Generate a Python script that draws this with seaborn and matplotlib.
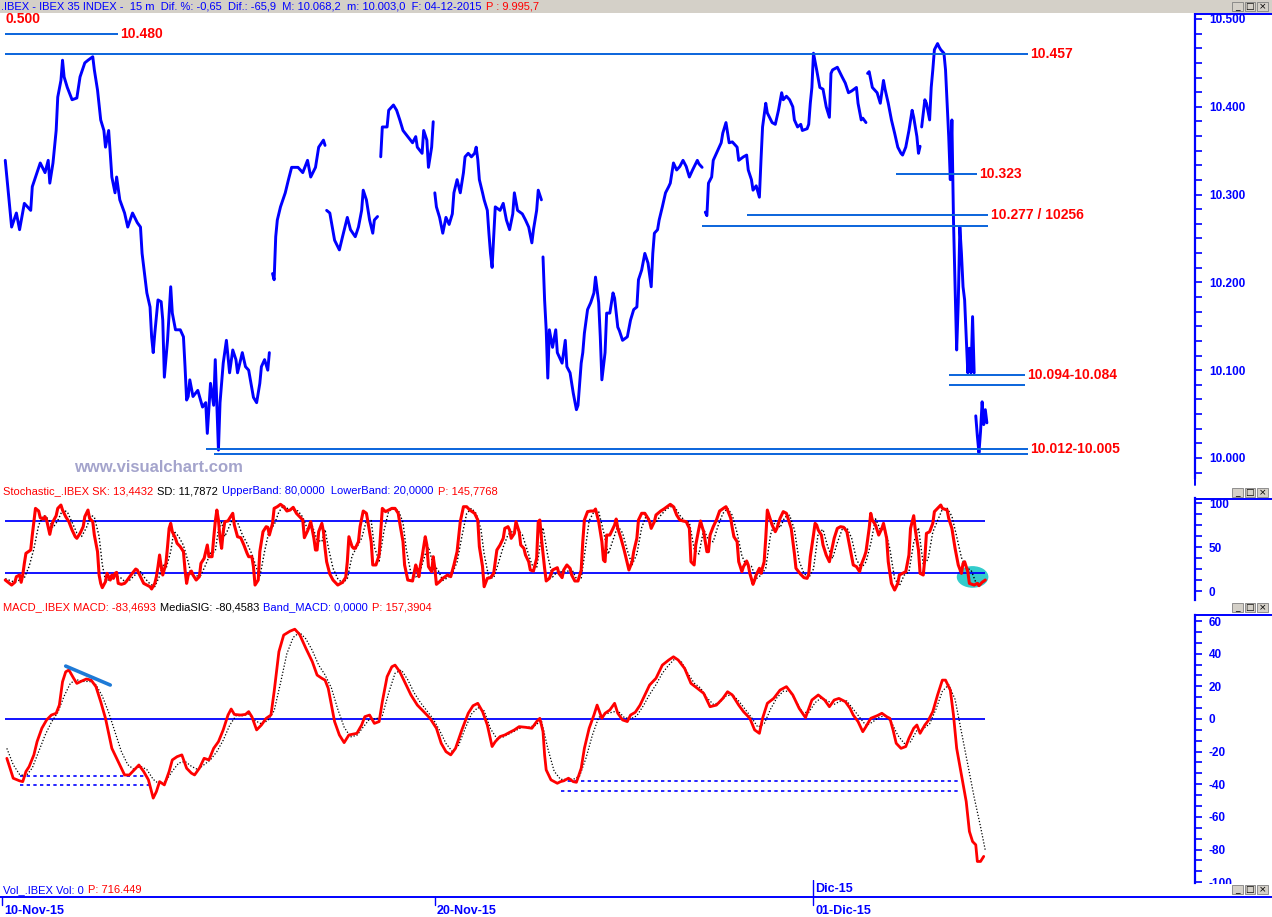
import numpy as np
import pandas as pd
import matplotlib
matplotlib.use("Agg")
import matplotlib.pyplot as plt
from matplotlib import font_manager
from matplotlib.ticker import MultipleLocator, FuncFormatter
from matplotlib.patches import Ellipse, Rectangle
from matplotlib.lines import Line2D
import seaborn as sns

# ---------------- data (x = 15 min bar number since 10-Nov-15 open) ----------------
price_bar = [2, 6, 9, 11, 14, 18, 19, 24, 27, 29, 30, 32, 34, 35, 37, 38, 39, 41, 44, 47,
             49, 52, 54, 57, 58, 60, 62, 64, 65, 67, 68, 69, 71, 72, 74, 77, 79, 82, 85, 87,
             88, 90, 91, 93, 94, 95, 96, 98, 100, 101, 102, 104, 106, 107, 109, 112, 114, 115, 116, 117,
             118, 120, 123, 126, 128, 129, 131, 133, 134, 136, 137, 139, 141, 143, 145, 147, 148, 151, 153, 155,
             158, 160, 162, 163, 165, 167, 168,
             170, 171, 172, 173, 175, 178, 180, 182, 186, 189, 192, 194, 197, 199, 202, 203,
             204, 206, 209, 212, 214, 217, 219, 222, 224, 226, 227, 229, 231, 233, 234, 236,
             238, 239, 242, 243, 246, 248, 250, 252, 255, 258, 260, 261, 264, 265, 267, 268, 270, 271,
             272, 273, 275, 277, 279, 281, 283, 284, 286, 288, 290, 291, 293, 295, 297, 298, 299, 300, 302, 303,
             305, 306, 307, 308, 309, 310, 313, 315, 317, 319, 321, 322, 324, 327, 329, 331, 333, 334, 336, 337, 339,
             340, 341, 342, 343, 344, 346, 348, 349, 352, 354, 355, 357, 359, 361, 362, 364, 365, 366, 368, 370,
             372, 373, 375, 376, 377, 379, 380, 382, 384, 385, 387, 388, 390, 393, 395, 397, 399, 400, 402, 404,
             406, 408, 409, 410, 412, 413, 415, 417, 419, 420, 422, 424, 426, 428, 430, 432, 434, 437, 438, 440,
             442, 443, 444, 446, 447, 449, 452, 453, 455, 457, 459, 462, 463, 466, 468, 469, 471, 472, 474, 476,
             477, 478, 480, 481, 484, 486, 488, 490, 491, 493, 495, 497, 498, 500, 502, 503, 506, 507, 508, 509,
             510, 512, 514, 516, 518, 520, 521, 522, 525, 528, 530, 532, 534, 537, 538, 540, 541, 543,
             544, 545, 547, 550, 552, 554, 555, 557, 559, 561, 563, 565, 566, 568, 570, 572, 573, 575, 576, 577,
             578, 580, 581, 583, 584, 585, 586, 588, 589, 590, 592, 593, 594, 595, 596, 597, 598, 599, 600, 601,
             602, 603, 604, 605, 606, 607, 608, 609, 610, 611,
             612, 613, 614, 615, 616, 617, 618, 619]
price_val = [10339, 10263, 10279, 10260, 10290, 10282, 10309, 10336, 10325, 10339, 10313, 10336, 10373, 10411, 10430, 10453, 10434, 10422, 10408, 10410,
             10434, 10450, 10453, 10457, 10442, 10419, 10385, 10373, 10354, 10373, 10347, 10320, 10302, 10320, 10294, 10279, 10263, 10279, 10268, 10263,
             10233, 10203, 10188, 10172, 10138, 10120, 10142, 10180, 10178, 10157, 10092, 10134, 10195, 10165, 10146, 10146, 10138, 10104, 10066, 10070,
             10089, 10070, 10077, 10058, 10063, 10028, 10085, 10060, 10112, 10009, 10063, 10108, 10134, 10097, 10123, 10112, 10097, 10120, 10104, 10100,
             10069, 10063, 10085, 10104, 10112, 10100, 10120,
             10210, 10203, 10252, 10271, 10286, 10302, 10317, 10331, 10331, 10325, 10339, 10320, 10331, 10354, 10362, 10356,
             10282, 10279, 10248, 10237, 10252, 10274, 10260, 10252, 10263, 10282, 10305, 10294, 10271, 10256, 10271, 10275,
             10343, 10377, 10377, 10396, 10402, 10396, 10385, 10373, 10366, 10359, 10366, 10354, 10347, 10373, 10362, 10331, 10354, 10383,
             10302, 10286, 10274, 10256, 10274, 10266, 10278, 10302, 10317, 10302, 10325, 10343, 10347, 10343, 10347, 10354, 10340, 10317, 10302, 10294,
             10282, 10256, 10233, 10217, 10252, 10286, 10282, 10290, 10271, 10260, 10278, 10302, 10282, 10278, 10271, 10263, 10245, 10260, 10282, 10305, 10294,
             10229, 10180, 10146, 10091, 10146, 10126, 10146, 10120, 10108, 10134, 10104, 10097, 10074, 10055, 10060, 10108, 10120, 10142, 10169, 10177,
             10188, 10206, 10177, 10138, 10089, 10120, 10165, 10165, 10188, 10182, 10149, 10145, 10134, 10138, 10157, 10169, 10172, 10203, 10214, 10233,
             10222, 10195, 10233, 10256, 10260, 10271, 10286, 10302, 10309, 10313, 10336, 10328, 10332, 10339, 10332, 10320, 10328, 10339, 10335, 10331,
             10280, 10276, 10313, 10320, 10339, 10347, 10359, 10370, 10382, 10359, 10360, 10354, 10339, 10343, 10345, 10328, 10317, 10305, 10310, 10297,
             10339, 10377, 10404, 10393, 10382, 10380, 10396, 10416, 10408, 10412, 10408, 10400, 10385, 10377, 10380, 10373, 10375, 10380, 10404, 10422,
             10461, 10442, 10422, 10420, 10400, 10388, 10438, 10442, 10445, 10434, 10427, 10416, 10418, 10422, 10404, 10385, 10387, 10382,
             10438, 10440, 10422, 10416, 10404, 10430, 10420, 10404, 10385, 10370, 10354, 10347, 10345, 10354, 10373, 10396, 10388, 10366, 10347, 10355,
             10377, 10408, 10404, 10385, 10422, 10442, 10465, 10472, 10468, 10465, 10461, 10442, 10404, 10366, 10317, 10385, 10271, 10195, 10123, 10177,
             10263, 10233, 10195, 10180, 10138, 10097, 10125, 10097, 10161, 10097,
             10048, 10025, 10006, 10030, 10064, 10038, 10055, 10040]
session_starts = [170, 204, 238, 272, 340, 442, 544, 578, 612]

# support / resistance levels drawn on the price panel
level_price = [10483, 10460, 10323, 10277, 10264, 10095, 10083, 10010, 10004]
level_start = [2, 2, 562, 468, 440, 595, 595, 128, 133]
level_end = [73, 645, 613, 620, 620, 643, 643, 645, 645]
level_text = {0: "10.480", 1: "10.457", 2: "10.323", 3: "10.277 / 10256",
              5: "10.094-10.084", 7: "10.012-10.005"}

sk_bar = [2, 6, 8, 9, 11, 12, 13, 14, 15, 18, 19, 20, 21, 23, 24, 26, 27, 28, 30, 31,
          32, 34, 35, 37, 38, 40, 42, 44, 46, 47, 49, 51, 52, 54, 55, 57, 58, 60, 61, 62,
          63, 65, 66, 68, 69, 70, 71, 72, 73, 75, 77, 78, 81, 84, 85, 87, 89, 91, 93, 94,
          96, 97, 98, 99, 100, 101, 103, 104, 105, 106, 107, 109, 110, 112, 114, 115, 116, 117, 119, 120,
          122, 124, 125, 127, 128, 129, 130, 132, 133, 134, 135, 136, 137, 138, 139, 140, 142, 143, 145, 146,
          148, 150, 152, 154, 155, 157, 158, 159, 161, 162, 164, 166, 167, 168, 170, 171, 173, 175, 177, 179,
          181, 183, 185, 187, 189, 190, 192, 193, 194, 195, 196, 197, 198, 199, 201, 202, 203, 204, 206, 208,
          211, 214, 216, 217, 218, 220, 221, 222, 224, 225, 227, 229, 230, 232, 233, 235, 237, 238, 239, 241,
          243, 245, 247, 249, 250, 252, 253, 255, 258, 260, 261, 262, 263, 264, 266, 267, 268, 270, 271, 272,
          273, 275, 277, 280, 282, 284, 286, 288, 290, 292, 294, 297, 299, 300, 302, 303, 305, 307, 309, 310,
          311, 313, 315, 316, 318, 319, 320, 322, 323, 325, 326, 328, 329, 331, 332, 334, 336, 337, 338, 339,
          341, 342, 344, 346, 349, 350, 352, 353, 355, 357, 358, 360, 362, 364, 365, 366, 368, 370, 372, 373,
          375, 377, 378, 379, 380, 382, 383, 385, 386, 387, 389, 391, 393, 394, 396, 397, 399, 400, 402, 404,
          406, 407, 408, 410, 411, 414, 416, 418, 420, 422, 424, 426, 428, 430, 432, 433, 435, 436, 438, 439,
          440, 441, 443, 444, 445, 447, 449, 451, 454, 455, 456, 458, 459, 460, 462, 463, 465, 466, 468, 469,
          470, 472, 473, 474, 476, 477, 479, 480, 481, 482, 484, 486, 487, 489, 491, 493, 494, 496, 498, 499,
          502, 504, 506, 507, 508, 510, 511, 512, 513, 515, 516, 518, 520, 521, 523, 525, 527, 529, 531, 533,
          535, 537, 539, 540, 542, 543, 545, 546, 547, 549, 550, 551, 553, 554, 556, 557, 559, 561, 563, 564,
          566, 568, 570, 571, 573, 574, 576, 577, 579, 580, 581, 583, 585, 586, 588, 590, 591, 594, 595, 597,
          599, 600, 601, 603, 604, 605, 607, 608, 611, 613, 614, 616, 618]
sk_val = [12.5, 6.8, 9.9, 16.3, 18.2, 9.9, 18.2, 31.4, 42.8, 46.6, 63.6, 78.8, 93.9, 90.9, 83.3, 81.8, 84.5, 80.7, 64.4, 73.1,
          78.8, 85.6, 93.9, 97.7, 92.0, 84.5, 78.8, 69.3, 61.7, 59.9, 65.5, 73.1, 84.5, 92.0, 82.6, 78.8, 63.6, 44.7, 18.2, 8.7,
          3.8, 10.6, 20.1, 12.5, 18.2, 14.4, 20.1, 21.2, 8.7, 7.6, 8.7, 10.6, 18.2, 25.0, 23.9, 16.3, 8.7, 6.8, 4.9, 2.3,
          8.7, 16.3, 27.7, 40.9, 27.7, 18.2, 31.4, 50.4, 71.2, 76.9, 67.4, 59.9, 54.2, 50.4, 44.7, 23.9, 8.7, 18.2, 22.7, 18.2,
          12.5, 16.3, 31.4, 37.1, 44.7, 52.3, 39.0, 39.0, 59.9, 78.8, 92.0, 80.7, 59.9, 48.5, 67.4, 78.8, 79.6, 82.6, 88.3, 75.0,
          61.7, 60.6, 52.3, 42.8, 39.0, 39.0, 27.7, 6.8, 12.5, 44.7, 67.4, 73.1, 72.4, 63.6, 76.9, 93.9, 95.8, 98.5, 95.8, 90.9,
          92.0, 95.1, 88.3, 84.5, 80.7, 60.6, 68.2, 73.1, 78.8, 69.3, 59.9, 46.6, 46.6, 67.4, 76.9, 67.4, 48.5, 33.3, 19.3, 12.5,
          6.8, 9.9, 15.5, 33.3, 61.7, 50.4, 48.5, 48.5, 56.1, 73.1, 90.9, 88.3, 78.0, 56.1, 29.6, 29.6, 40.9, 67.4, 93.9, 90.2,
          92.0, 93.9, 93.9, 88.3, 76.9, 56.1, 29.6, 12.5, 11.4, 29.6, 23.9, 16.3, 29.6, 39.0, 61.7, 52.3, 27.7, 22.0, 39.0, 25.8,
          7.6, 10.6, 14.4, 18.2, 16.3, 29.6, 44.7, 78.8, 95.8, 95.8, 92.0, 88.3, 80.7, 50.4, 27.7, 4.9, 14.4, 15.2, 20.1, 33.3,
          46.6, 52.3, 59.9, 71.2, 73.1, 69.3, 59.9, 65.5, 78.8, 67.4, 52.3, 48.5, 40.9, 33.3, 23.9, 22.7, 37.1, 78.8, 80.7, 59.9,
          25.8, 11.4, 14.4, 23.9, 26.5, 20.1, 15.2, 23.9, 29.6, 25.8, 18.2, 11.4, 11.4, 23.9, 56.1, 80.7, 90.2, 90.9, 90.9, 93.2,
          78.8, 56.1, 35.2, 33.3, 63.6, 63.6, 67.4, 75.0, 81.8, 71.2, 59.9, 46.6, 31.4, 23.9, 33.3, 44.7, 59.9, 80.7, 88.3, 88.3,
          82.6, 78.8, 71.2, 78.8, 86.4, 90.9, 93.2, 95.8, 98.5, 95.8, 86.4, 80.7, 79.6, 78.8, 71.2, 33.3, 29.6, 52.3, 71.2, 79.6,
          73.1, 67.4, 44.7, 44.7, 63.6, 73.1, 80.7, 90.9, 94.7, 95.8, 92.0, 82.6, 71.2, 61.7, 56.1, 33.3, 22.0, 27.7, 34.1, 29.6,
          20.1, 7.6, 12.5, 18.2, 25.8, 20.1, 33.3, 59.9, 92.0, 86.4, 75.0, 67.4, 71.2, 82.6, 90.2, 88.3, 82.6, 71.2, 42.8, 25.8,
          18.9, 15.2, 14.4, 18.9, 39.0, 63.6, 76.9, 75.0, 69.3, 63.6, 52.3, 40.9, 33.3, 42.8, 59.9, 71.2, 73.1, 72.4, 67.4, 48.5,
          29.6, 27.7, 22.0, 29.6, 39.0, 44.7, 71.2, 88.3, 80.7, 75.0, 69.3, 63.6, 71.2, 76.9, 59.9, 33.3, 8.7, 1.1, 8.7, 18.2,
          20.1, 22.0, 40.9, 71.2, 85.6, 69.3, 46.6, 20.1, 18.2, 37.1, 65.5, 67.4, 76.9, 90.2, 93.9, 97.7, 93.9, 92.0, 82.6, 71.2,
          48.5, 39.0, 29.6, 20.1, 31.4, 33.3, 22.0, 8.7, 6.8, 8.7, 6.1, 9.9, 12.5]
sd_bar = [2, 8, 14, 17, 20, 23, 26, 29, 32, 35, 38, 41, 44, 47, 50, 53, 56, 58, 61, 63,
          65, 68, 71, 74, 77, 80, 84, 87, 90, 93, 96, 99, 101, 103, 106, 108, 111, 114, 117, 119,
          122, 125, 128, 131, 134, 136, 138, 140, 142, 145, 148, 151, 154, 157, 160, 162, 165, 168, 171, 174,
          177, 180, 183, 186, 189, 192, 195, 198, 201, 203, 205, 208, 211, 214, 217, 220, 223, 226, 229, 232,
          234, 237, 240, 243, 246, 249, 252, 254, 257, 260, 263, 266, 268, 271, 274, 277, 280, 283, 286, 289,
          292, 295, 298, 301, 303, 306, 309, 312, 315, 318, 321, 324, 327, 330, 333, 336, 338, 340, 343, 346,
          349, 352, 355, 358, 361, 364, 366, 369, 372, 375, 378, 381, 384, 387, 390, 393, 396, 399, 402, 405,
          408, 411, 414, 417, 420, 423, 426, 429, 432, 435, 438, 441, 444, 447, 450, 453, 456, 459, 462, 465,
          468, 471, 474, 477, 480, 483, 486, 489, 492, 495, 498, 501, 504, 507, 510, 513, 516, 519, 522, 525,
          528, 531, 534, 537, 540, 543, 546, 549, 552, 555, 558, 561, 564, 567, 570, 573, 576, 579, 582, 585,
          588, 591, 594, 597, 600, 603, 606, 609, 612, 615, 618]
sd_val = [14, 10, 15, 28, 48, 75, 86, 82, 72, 80, 92, 90, 78, 66, 62, 72, 86, 84, 62, 30,
          12, 13, 16, 16, 11, 12, 19, 22, 14, 8, 5, 17, 30, 25, 45, 68, 62, 52, 33, 18,
          17, 18, 30, 43, 45, 70, 78, 62, 70, 82, 78, 64, 54, 42, 26, 16, 45, 70, 75, 90,
          97, 93, 92, 91, 84, 70, 74, 58, 56, 70, 50, 26, 14, 9, 14, 40, 50, 60, 80, 80,
          50, 34, 68, 91, 93, 92, 78, 48, 20, 16, 24, 42, 50, 30, 24, 12, 15, 20, 33, 62,
          88, 94, 88, 70, 42, 15, 15, 32, 50, 64, 68, 70, 64, 47, 30, 26, 50, 72, 40, 16,
          22, 22, 22, 25, 14, 14, 40, 80, 90, 90, 68, 42, 58, 74, 66, 46, 30, 42, 72, 86,
          78, 78, 86, 92, 96, 95, 86, 80, 78, 48, 42, 70, 58, 56, 74, 88, 94, 86, 66, 40,
          28, 28, 14, 18, 26, 64, 80, 72, 84, 86, 70, 34, 20, 15, 25, 66, 70, 50, 37, 55,
          70, 72, 60, 36, 26, 33, 54, 82, 70, 70, 48, 14, 6, 18, 22, 55, 72, 30, 36, 67,
          80, 93, 94, 85, 62, 38, 26, 24, 10, 8, 11.8]
stoch_bands = [80, 20]

macd_bar = [3, 5, 7, 11, 13, 15, 17, 20, 22, 25, 28, 31, 34, 36, 38, 40, 42, 45, 47, 50,
            53, 56, 59, 62, 65, 69, 73, 77, 80, 84, 86, 89, 92, 95, 97, 99, 102, 105, 107, 110,
            113, 116, 119, 121, 124, 127, 130, 133, 136, 139, 142, 144, 146, 150, 153, 155, 157, 160, 163, 166,
            169, 171, 174, 177, 181, 184, 187, 191, 195, 198, 201, 203, 205, 207, 209, 212, 215, 218, 223, 226,
            228, 231, 234, 237, 239, 242, 245, 247, 250, 253, 257, 261, 265, 269, 273, 276, 279, 282, 285, 289,
            293, 296, 299, 302, 305, 308, 310, 313, 316, 319, 322, 325, 329, 333, 336, 338, 340, 341, 342, 345,
            349, 351, 353, 356, 359, 361, 364, 366, 369, 372, 374, 377, 379, 382, 385, 387, 390, 393, 395, 398,
            401, 404, 407, 411, 415, 419, 422, 425, 429, 433, 437, 441, 445, 449, 453, 456, 459, 463, 466, 470,
            473, 476, 478, 481, 485, 489, 493, 497, 501, 505, 509, 513, 517, 520, 523, 526, 530, 533, 535, 538,
            541, 543, 546, 550, 553, 556, 558, 560, 562, 565, 568, 570, 573, 575, 577, 580, 582, 585, 588, 591,
            593, 596, 598, 600, 603, 606, 608, 610, 612, 613, 615, 617]
macd_val = [-24.1, -30.2, -36.3, -37.9, -38.4, -32.2, -29.2, -22.0, -13.9, -5.7, -0.6, 2.4, 3.5, 8.5, 22.8, 28.9, 30.0, 24.9, 21.8, 23.2,
            24.5, 23.8, 19.8, 10.6, 0.4, -18.0, -26.1, -34.3, -34.3, -30.2, -28.2, -32.2, -37.3, -48.5, -44.5, -38.4, -40.4, -32.2, -25.1, -23.1,
            -22.0, -30.2, -33.2, -34.3, -30.2, -24.1, -25.1, -18.0, -13.9, -6.7, 2.4, 6.1, 2.8, 2.4, 2.8, 4.5, 1.4, -6.7, -3.7, 0.4,
            2.4, 16.7, 41.2, 51.4, 53.8, 55.0, 51.8, 43.2, 35.1, 26.9, 24.9, 23.8, 18.8, 8.5, -1.6, -9.8, -14.5, -9.8, -8.8, -3.7,
            1.4, 2.4, -2.7, -1.6, 10.6, 25.9, 32.0, 33.0, 28.9, 22.8, 14.7, 8.5, 4.5, 0.4, -5.7, -14.9, -20.0, -22.0, -18.0, -6.7,
            3.5, 8.1, 9.6, 4.5, -3.7, -16.9, -13.9, -10.8, -9.8, -8.2, -6.7, -4.7, -5.1, -5.7, -1.6, 0.4, -7.8, -22.0, -31.2, -37.3,
            -39.4, -38.4, -37.9, -36.3, -38.4, -38.8, -30.2, -18.0, -5.7, 2.4, 8.5, 0.4, 3.5, 5.5, 9.6, 3.5, -0.6, -1.6, 2.4, 4.1,
            8.5, 14.7, 20.8, 24.9, 33.0, 36.1, 38.1, 36.1, 31.0, 21.8, 18.8, 15.7, 7.5, 8.5, 12.6, 16.7, 14.7, 8.5, 4.5, 0.4,
            -6.7, -8.8, 0.4, 9.6, 12.6, 17.7, 19.8, 14.7, 6.5, 0.8, 11.6, 14.7, 11.6, 7.5, 11.6, 12.6, 10.6, 6.5, 2.4, -1.6,
            -7.8, -4.7, 0.4, 2.0, 3.5, 1.4, 0.4, -6.7, -14.9, -18.0, -16.9, -11.8, -5.7, -3.7, -8.8, -3.7, -1.2, 4.5, 14.7, 23.8,
            23.8, 17.7, 2.4, -18.0, -34.3, -50.6, -68.9, -75.1, -77.1, -87.3, -87.3, -84.2]
sig_bar = [3, 7, 11, 15, 19, 23, 27, 31, 35, 39, 43, 47, 51, 55, 59, 63, 67, 71, 75, 79,
           83, 87, 91, 95, 99, 103, 107, 111, 115, 119, 123, 127, 131, 135, 139, 143, 147, 151, 155, 159,
           163, 167, 171, 175, 179, 183, 187, 191, 195, 199, 203, 207, 211, 215, 219, 223, 227, 231, 235, 239,
           243, 247, 251, 255, 259, 263, 267, 271, 275, 279, 283, 287, 291, 295, 299, 303, 307, 311, 315, 319,
           323, 327, 331, 335, 339, 343, 347, 351, 355, 359, 363, 367, 371, 375, 379, 383, 387, 391, 395, 399,
           403, 407, 411, 415, 419, 423, 427, 431, 435, 439, 443, 447, 451, 455, 459, 463, 467, 471, 475, 479,
           483, 487, 491, 495, 499, 503, 507, 511, 515, 519, 523, 527, 531, 535, 539, 543, 547, 551, 555, 559,
           563, 567, 571, 575, 579, 583, 587, 591, 595, 599, 603, 607, 611, 615, 618]
sig_val = [-18, -28, -34, -35, -30, -20, -10, -2, 4, 14, 22, 24, 23, 23, 21, 14, 4, -8, -20, -28,
           -31, -29, -31, -37, -40, -38, -32, -27, -26, -29, -31, -28, -25, -20, -13, -4, 2, 2, 3, -1,
           -3, -1, 5, 22, 40, 50, 53, 49, 42, 33, 27, 19, 6, -5, -11, -10, -5, 0, 0, 2,
           16, 28, 30, 24, 16, 10, 5, 0, -7, -15, -20, -16, -6, 3, 7, 5, -6, -12, -11, -9,
           -7, -5, -5, -4, -1, -18, -32, -37, -37, -37, -35, -24, -10, 1, 3, 4, 5, 1, 0, 2,
           8, 15, 21, 28, 33, 37, 35, 28, 22, 19, 13, 9, 10, 14, 15, 11, 6, 1, -5, -3,
           6, 13, 17, 17, 11, 4, 4, 10, 13, 11, 9, 11, 11, 6, 1, -4, -2, 1, 2, -2,
           -10, -15, -14, -7, -6, -3, 6, 17, 21, 12, -8, -28, -48, -66, -80.5]

# trendline and support marks drawn on the MACD panel
macd_trend_bar = [40, 68]
macd_trend_val = [32.4, 20.8]
macd_dot_start = [11, 11, 351, 351]
macd_dot_end = [91, 93, 601, 601]
macd_dot_val = [-34.9, -40.4, -37.9, -44.0]

date_ticks = [0, 272, 510]
date_labels = ["10-Nov-15", "20-Nov-15", "01-Dic-15"]
month_ticks = [510]
month_labels = ["Dic-15"]

# ---------------- style ----------------
sns.set_theme(style="white")
names = {f.name for f in font_manager.fontManager.ttflist}
plt.rcParams["font.family"] = ["Liberation Sans", "DejaVu Sans"]
narrow = "Liberation Sans Narrow" if "Liberation Sans Narrow" in names else "Liberation Sans"

BLUE = "#0000ff"
LEVEL = "#0a64dc"
RED = "#ff0000"
GRAY = "#d4d0c8"
W, H = 1272, 917
XMIN, XMAX = -1.3, 749.8

fig = plt.figure(figsize=(W / 100, H / 100), dpi=100)
fig.patch.set_facecolor("white")


def panel(top, bottom, left=0, right=1195):
    return fig.add_axes([left / W, 1 - bottom / H, (right - left) / W, (bottom - top) / H])


def style_panel(ax, ylim, major, minor, fmt):
    ax.set_xlim(XMIN, XMAX)
    ax.set_ylim(*ylim)
    ax.set_facecolor("white")
    for s in ["left", "top", "bottom"]:
        ax.spines[s].set_visible(False)
    ax.spines["right"].set_color(BLUE)
    ax.spines["right"].set_linewidth(1.6)
    ax.set_xticks([])
    ax.yaxis.tick_right()
    ax.yaxis.set_major_locator(MultipleLocator(major))
    ax.yaxis.set_minor_locator(MultipleLocator(minor))
    ax.yaxis.set_major_formatter(FuncFormatter(fmt))
    ax.tick_params(axis="y", which="both", direction="out", colors=BLUE, length=5,
                   width=1.2, labelsize=8.5, pad=5)
    ax.set_xlabel("")
    ax.set_ylabel("")
    ax.grid(False)


# ---------------- price panel ----------------
ax_p = panel(13, 478)
price_df = pd.DataFrame({"bar": price_bar, "price": price_val})
price_df["session"] = np.searchsorted(session_starts, price_df["bar"], side="right")
sns.lineplot(data=price_df, x="bar", y="price", units="session", estimator=None,
             color=BLUE, lw=2.1, ax=ax_p, legend=False)
ax_p.hlines(level_price, level_start, level_end, color=LEVEL, lw=1.4, zorder=3)
for i, txt in level_text.items():
    ax_p.text(level_end[i] + 1.3, level_price[i], txt, color=RED, fontsize=10,
              fontweight="bold", va="center", ha="left")
ax_p.text(2, 10500, "0.500", color=RED, fontsize=10, fontweight="bold",
          va="center", ha="left")
ax_p.text(45, 9989, "www.visualchart.com", color="#a4a4cc", fontsize=12,
          fontweight="bold", va="center", ha="left")
style_panel(ax_p, (9977.2, 10506.8), 100, 100 / 6, lambda v, p: f"{int(round(v)):,}".replace(",", "."))

# ---------------- stochastic panel ----------------
ax_s = panel(498, 600)
ax_s.add_patch(Ellipse((610, 16), 19, 23, color="#33cccc", zorder=1))
ax_s.hlines(stoch_bands, 2, 618, color=BLUE, lw=1.3, zorder=2)
sns.lineplot(x=sd_bar, y=sd_val, color="black", lw=1.0, ls=(0, (1, 1.5)), ax=ax_s, zorder=3)
sns.lineplot(x=sk_bar, y=sk_val, color=RED, lw=2.2, ax=ax_s, zorder=4)
style_panel(ax_s, (-10.2, 105.7), 50, 12.5, lambda v, p: f"{int(round(v))}")

# ---------------- MACD panel ----------------
ax_m = panel(615, 883)
ax_m.hlines(0, 2, 618, color=BLUE, lw=1.3, zorder=2)
ax_m.hlines(macd_dot_val, macd_dot_start, macd_dot_end, color=BLUE, lw=1.2,
            linestyles=(0, (2, 2)), zorder=2)
sns.lineplot(x=sig_bar, y=sig_val, color="black", lw=0.9, ls=(0, (1, 1.5)), ax=ax_m, zorder=3)
sns.lineplot(x=macd_bar, y=macd_val, color=RED, lw=2.0, ax=ax_m, zorder=4)
ax_m.plot(macd_trend_bar, macd_trend_val, color="#1e7ad6", lw=2.6, zorder=5)
style_panel(ax_m, (-100.5, 63.7), 20, 20 / 3, lambda v, p: f"{int(round(v))}")

for ax in (ax_p, ax_s, ax_m):
    for lab in ax.get_yticklabels():
        lab.set_fontweight("bold")

# ---------------- time axis ----------------
ax_t = panel(897, 917)
ax_t.set_xlim(XMIN, XMAX)
ax_t.set_ylim(0, 1)
ax_t.axis("off")
for b, lab in zip(date_ticks, date_labels):
    ax_t.plot([b, b], [1, 0.6], color=BLUE, lw=1, clip_on=False)
    ax_t.text(b + 1.3, 0.3, lab, color=BLUE, fontsize=9, fontweight="bold", va="center", ha="left")
ax_v = panel(880, 897)
ax_v.set_xlim(XMIN, XMAX)
ax_v.set_ylim(0, 1)
ax_v.axis("off")
for b, lab in zip(month_ticks, month_labels):
    ax_v.plot([b, b], [0, 1], color=BLUE, lw=1)
    ax_v.text(b + 1.3, 0.5, lab, color=BLUE, fontsize=9, fontweight="bold", va="center", ha="left")

# ---------------- window chrome ----------------
fig.add_artist(Rectangle((0, 1 - 13 / H), 1, 13 / H, transform=fig.transFigure,
                         facecolor=GRAY, edgecolor="none", zorder=5))
fig.add_artist(Rectangle((1196 / W, 1 - 896 / H), 76 / W, 12 / H, transform=fig.transFigure,
                         facecolor="white", edgecolor="none", zorder=5))
for yy, x0 in [(14, 1195), (499, 1195), (615, 1195), (897, 0)]:
    fig.add_artist(Line2D([x0 / W, 1], [1 - yy / H] * 2, color=BLUE, lw=1.4, zorder=6))
fig.add_artist(Line2D([1195 / W] * 2, [1 - 478 / H, 1 - 485 / H], color=BLUE, lw=1.4, zorder=6))

for ytop in (2, 488, 603, 885):
    for k, glyph in enumerate(["_", "□", "×"]):
        x0 = 1232 + k * 12.5
        fig.add_artist(Rectangle((x0 / W, 1 - (ytop + 9) / H), 10.5 / W, 9 / H,
                                 transform=fig.transFigure, facecolor=GRAY,
                                 edgecolor="#808080", lw=0.6, zorder=7))
        fig.text((x0 + 5.2) / W, 1 - (ytop + 4.3) / H, glyph, fontsize=6.5, color="black",
                 ha="center", va="center", zorder=8, family="DejaVu Sans")

renderer = fig.canvas.get_renderer()


def rich(x, y, parts, size=8):
    for s, c in parts:
        t = fig.text(x / W, 1 - y / H, s, color=c, fontsize=size, fontweight="normal",
                     va="center", ha="left", zorder=8, family=[narrow, "DejaVu Sans"])
        x = t.get_window_extent(renderer).x1 + 4


rich(1, 6.5, [(".IBEX - IBEX 35 INDEX -  15 m  Dif. %: -0,65  Dif.: -65,9  M: 10.068,2  m: 10.003,0  F: 04-12-2015", BLUE),
              ("P : 9.995,7", RED)])
rich(3, 491, [("Stochastic_.IBEX SK: 13,4432", RED), ("SD: 11,7872", "black"),
              ("UpperBand: 80,0000  LowerBand: 20,0000", BLUE), ("P: 145,7768", RED)])
rich(3, 607, [("MACD_.IBEX MACD: -83,4693", RED), ("MediaSIG: -80,4583", "black"),
              ("Band_MACD: 0,0000", BLUE), ("P: 157,3904", RED)])
rich(3, 890, [("Vol_.IBEX Vol: 0", BLUE), ("P: 716.449", RED)])

fig.savefig("out.png", dpi=100, facecolor="white")
